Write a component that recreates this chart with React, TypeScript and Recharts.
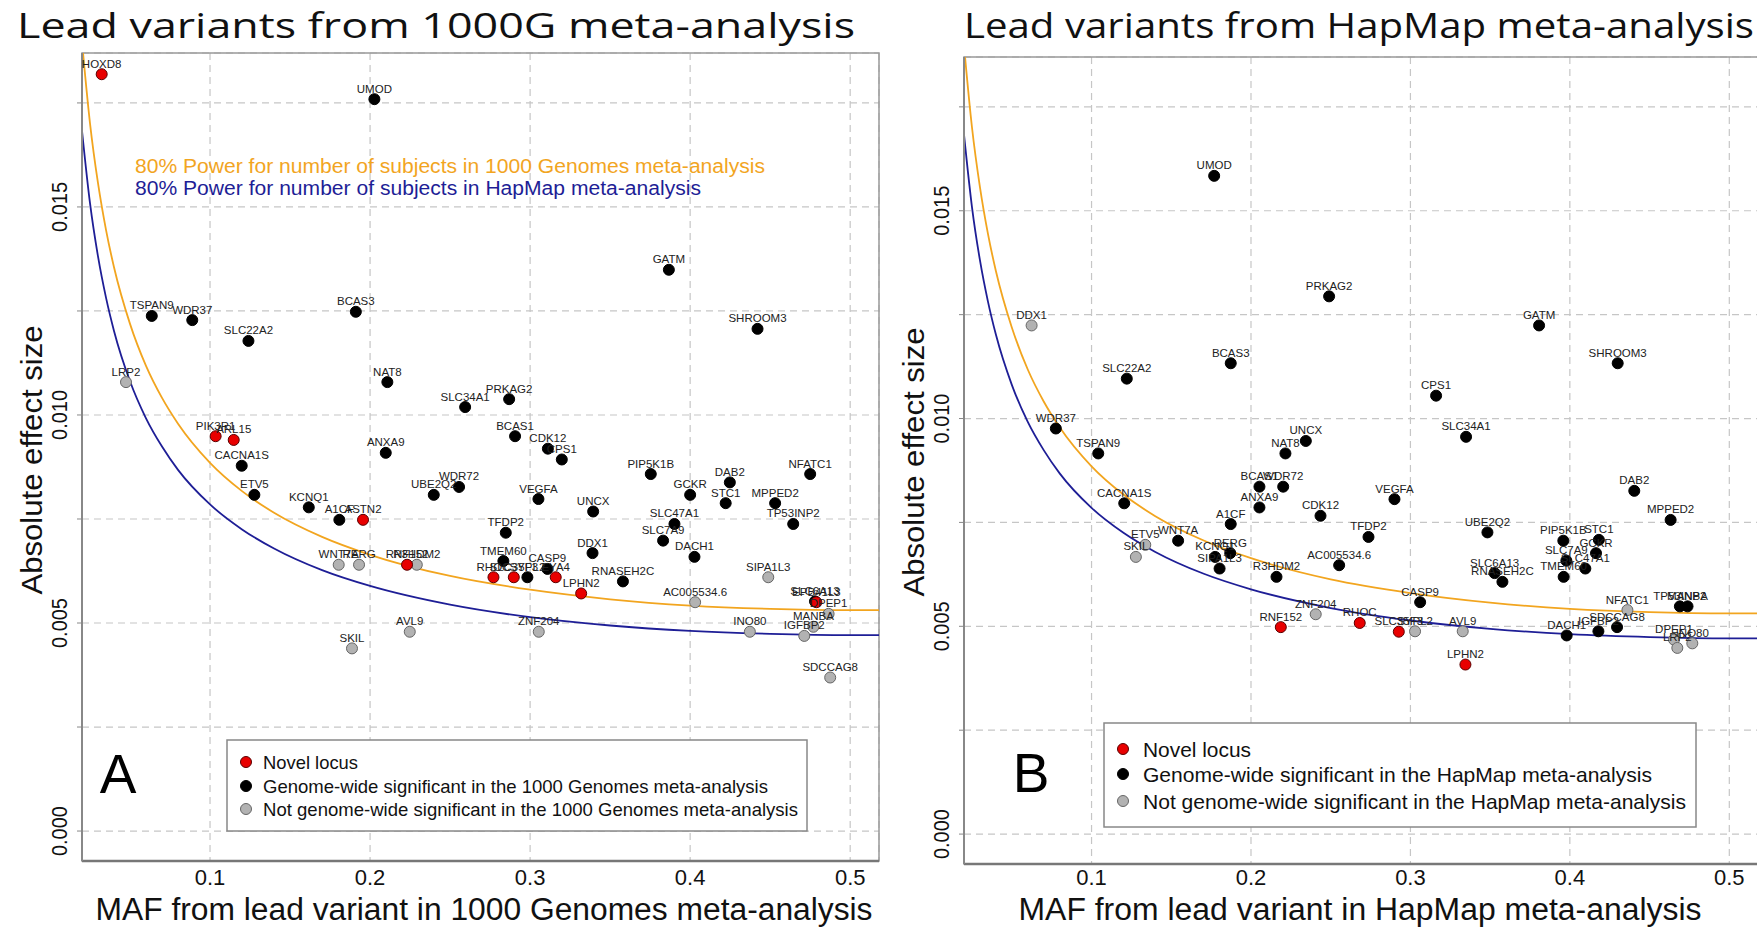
import React from 'react';
import { ComposedChart, Scatter, Line, XAxis, YAxis, CartesianGrid, ReferenceArea } from 'recharts';

const SANS = '"Liberation Sans", Arial, sans-serif';
const ORANGE = '#F2A51F';
const NAVY = '#1E1E96';

const xTicks = [0.1, 0.2, 0.3, 0.4, 0.5];
const yTicks = [0, 0.0025, 0.005, 0.0075, 0.01, 0.0125, 0.015, 0.0175];
const yLabelled = [0, 0.005, 0.01, 0.015];
const xDomain = [0.02, 0.518];
const yDomain = [-0.00072, 0.0187];

// 80% power curves (same in both panels)
const powerMaf = [0.02, 0.025, 0.03, 0.035, 0.04, 0.05, 0.06, 0.07, 0.08, 0.1, 0.12, 0.14, 0.17, 0.2, 0.25, 0.3, 0.35, 0.4, 0.45, 0.5, 0.518];
const power1000G = [0.01897, 0.01701, 0.01557, 0.01445, 0.01355, 0.01219, 0.01118, 0.01041, 0.00979, 0.00885, 0.00817, 0.00765, 0.00707, 0.00664, 0.00613, 0.0058, 0.00557, 0.00542, 0.00534, 0.00531, 0.00531];
const powerHapMap = [0.01683, 0.01509, 0.01381, 0.01282, 0.01202, 0.01081, 0.00992, 0.00924, 0.00868, 0.00785, 0.00725, 0.00679, 0.00627, 0.00589, 0.00544, 0.00514, 0.00494, 0.00481, 0.00474, 0.00471, 0.00471];

// panel A: 1000 Genomes
const kgGenes = ['HOXD8', 'UMOD', 'TSPAN9', 'WDR37', 'BCAS3', 'SLC22A2', 'LRP2', 'NAT8', 'SLC34A1', 'PIK3R1', 'ARL15', 'ANXA9', 'GATM', 'SHROOM3', 'PRKAG2', 'BCAS1', 'CDK12', 'CPS1', 'CACNA1S', 'ETV5', 'KCNQ1', 'A1CF', 'ASTN2', 'UBE2Q2', 'WDR72', 'WNT7A', 'RERG', 'RNF152', 'R3HDM2', 'AVL9', 'SKIL', 'RHOC', 'TMEM60', 'SLC35F3', 'SYPL2', 'CASP9', 'EYA4', 'LPHN2', 'TFDP2', 'DDX1', 'RNASEH2C', 'PIP5K1B', 'VEGFA', 'UNCX', 'GCKR', 'DAB2', 'STC1', 'NFATC1', 'MPPED2', 'TP53INP2', 'SLC47A1', 'SLC7A9', 'DACH1', 'SIPA1L3', 'AC005534.6', 'SLC6A13', 'EPB41L3', 'DPEP1', 'MANBA', 'IGFBP2', 'INO80', 'ZNF204', 'SDCCAG8'];
const kgMaf = [0.0323, 0.2027, 0.0636, 0.0889, 0.1911, 0.124, 0.0475, 0.2108, 0.2594, 0.1035, 0.1148, 0.2098, 0.3867, 0.4421, 0.2869, 0.2906, 0.3111, 0.3198, 0.1198, 0.1277, 0.1617, 0.1808, 0.1956, 0.2398, 0.2556, 0.1804, 0.1931, 0.2231, 0.2292, 0.2248, 0.1887, 0.2771, 0.2833, 0.2898, 0.2983, 0.3108, 0.316, 0.3319, 0.2848, 0.339, 0.358, 0.3754, 0.3052, 0.3394, 0.4, 0.4248, 0.4222, 0.475, 0.4531, 0.4644, 0.3902, 0.3831, 0.4027, 0.4488, 0.4031, 0.478, 0.4789, 0.4865, 0.477, 0.4713, 0.4373, 0.3054, 0.4875];
const kgEffect = [0.01819, 0.01759, 0.01238, 0.01228, 0.01248, 0.01178, 0.01079, 0.01079, 0.01019, 0.00949, 0.0094, 0.00909, 0.01349, 0.01207, 0.01038, 0.00949, 0.00919, 0.00893, 0.00878, 0.00808, 0.00778, 0.00748, 0.00748, 0.00808, 0.00827, 0.0064, 0.0064, 0.0064, 0.0064, 0.00479, 0.00439, 0.0061, 0.00649, 0.0061, 0.0061, 0.0063, 0.0061, 0.00571, 0.00717, 0.00668, 0.006, 0.00858, 0.00798, 0.00768, 0.00808, 0.00838, 0.00788, 0.00858, 0.00788, 0.00738, 0.00738, 0.00698, 0.00659, 0.0061, 0.0055, 0.00552, 0.0055, 0.00522, 0.00491, 0.00469, 0.00479, 0.00479, 0.00369];
const kgStatus = ['novel', 'gws', 'gws', 'gws', 'gws', 'gws', 'ns', 'gws', 'gws', 'novel', 'novel', 'gws', 'gws', 'gws', 'gws', 'gws', 'gws', 'gws', 'gws', 'gws', 'gws', 'gws', 'novel', 'gws', 'gws', 'ns', 'ns', 'novel', 'ns', 'ns', 'ns', 'novel', 'gws', 'novel', 'gws', 'gws', 'novel', 'novel', 'gws', 'gws', 'gws', 'gws', 'gws', 'gws', 'gws', 'gws', 'gws', 'gws', 'gws', 'gws', 'gws', 'gws', 'gws', 'ns', 'ns', 'gws', 'novel', 'ns', 'ns', 'ns', 'ns', 'ns', 'ns'];

// panel B: HapMap
const hmGenes = ['UMOD', 'PRKAG2', 'DDX1', 'BCAS3', 'SLC22A2', 'WDR37', 'TSPAN9', 'UNCX', 'NAT8', 'GATM', 'SHROOM3', 'CPS1', 'SLC34A1', 'CACNA1S', 'BCAS1', 'WDR72', 'ANXA9', 'CDK12', 'A1CF', 'WNT7A', 'ETV5', 'SKIL', 'KCNQ1', 'RERG', 'SIPA1L3', 'R3HDM2', 'AC005534.6', 'ZNF204', 'RNF152', 'RHOC', 'SLC35F3', 'SYPL2', 'AVL9', 'LPHN2', 'CASP9', 'VEGFA', 'TFDP2', 'UBE2Q2', 'SLC6A13', 'RNASEH2C', 'PIP5K1B', 'STC1', 'GCKR', 'SLC7A9', 'SLC47A1', 'TMEM60', 'DAB2', 'MPPED2', 'NFATC1', 'TP53INP2', 'MANBA', 'DACH1', 'IGFBP2', 'SDCCAG8', 'DPEP1', 'LRP2', 'INO80'];
const hmMaf = [0.1769, 0.249, 0.0624, 0.1873, 0.1221, 0.0776, 0.1042, 0.2344, 0.2216, 0.3807, 0.43, 0.3161, 0.3349, 0.1205, 0.2053, 0.2202, 0.2053, 0.2436, 0.1873, 0.1543, 0.1337, 0.1278, 0.1775, 0.187, 0.1803, 0.216, 0.2553, 0.2406, 0.2187, 0.2682, 0.2927, 0.3029, 0.3328, 0.3345, 0.3061, 0.29, 0.2737, 0.3483, 0.3528, 0.3577, 0.3959, 0.4182, 0.4164, 0.3978, 0.4097, 0.3961, 0.4404, 0.4632, 0.4361, 0.469, 0.4738, 0.398, 0.4179, 0.4296, 0.4653, 0.4674, 0.4768];
const hmEffect = [0.01584, 0.01294, 0.01224, 0.01133, 0.01096, 0.00976, 0.00916, 0.00946, 0.00916, 0.01224, 0.01133, 0.01055, 0.00956, 0.00796, 0.00836, 0.00836, 0.00786, 0.00766, 0.00746, 0.00706, 0.00696, 0.00667, 0.00667, 0.00676, 0.00639, 0.00619, 0.00647, 0.00529, 0.00498, 0.00508, 0.00487, 0.00488, 0.00488, 0.00408, 0.00558, 0.00806, 0.00715, 0.00726, 0.00628, 0.00607, 0.00706, 0.00708, 0.00676, 0.00658, 0.00639, 0.00619, 0.00826, 0.00756, 0.00539, 0.00548, 0.00548, 0.00478, 0.00488, 0.00498, 0.00468, 0.00448, 0.00459];
const hmStatus = ['gws', 'gws', 'ns', 'gws', 'gws', 'gws', 'gws', 'gws', 'gws', 'gws', 'gws', 'gws', 'gws', 'gws', 'gws', 'gws', 'gws', 'gws', 'gws', 'gws', 'ns', 'ns', 'gws', 'gws', 'gws', 'gws', 'gws', 'ns', 'novel', 'novel', 'novel', 'ns', 'ns', 'novel', 'gws', 'gws', 'gws', 'gws', 'gws', 'gws', 'gws', 'gws', 'gws', 'gws', 'gws', 'gws', 'gws', 'gws', 'ns', 'gws', 'gws', 'gws', 'gws', 'gws', 'ns', 'ns', 'ns'];

const curve = (effects: number[]) => powerMaf.map((m, i) => ({ maf: m, eff: effects[i] }));
const points = (names: string[], maf: number[], eff: number[], status: string[]) =>
  names.map((n, i) => ({ name: n, maf: maf[i], eff: eff[i], status: status[i] }));

const dot = (fill: string, stroke: string) => (props: any) => (
  <circle cx={props.cx} cy={props.cy} r={5.5} fill={fill} stroke={stroke} strokeWidth={1} />
);

const geneLabel = (props: any) => {
  const name = props.payload?.name ?? props.name;
  return (
    <text x={props.cx} y={props.cy - 6.5} textAnchor="middle" fontSize={11.5} fill="#222" fontFamily={SANS}>
      {name}
    </text>
  );
};

const makeYTick = (labelX: number) => (props: any) => {
  const { y, payload } = props;
  const v = payload.value;
  if (!yLabelled.some((t) => Math.abs(t - v) < 1e-9)) return <g />;
  return (
    <text
      x={labelX}
      y={y}
      transform={`rotate(-90 ${labelX} ${y})`}
      textAnchor="middle"
      dominantBaseline="central"
      fontSize={22}
      textLength={50}
      lengthAdjust="spacingAndGlyphs"
      fontFamily={SANS}
      fill="#111"
    >
      {v.toFixed(3)}
    </text>
  );
};

const makeXTick = (baseline: number) => (props: any) => (
  <text x={props.x} y={baseline} textAnchor="middle" fontSize={22} fontFamily={SANS} fill="#111">
    {props.payload.value}
  </text>
);

interface PanelProps {
  data: { name: string; maf: number; eff: number; status: string }[];
  left: number;
  width: number;
  margin: { top: number; right: number; bottom: number; left: number };
  yAxisWidth: number;
  xAxisHeight: number;
  yLabelX: number;
}

function Panel({ data, left, width, margin, yAxisWidth, xAxisHeight, yLabelX }: PanelProps) {
  const novel = data.filter((d) => d.status === 'novel');
  const gws = data.filter((d) => d.status === 'gws');
  const ns = data.filter((d) => d.status === 'ns');
  return (
    <div style={{ position: 'absolute', left, top: 0 }}>
      <ComposedChart width={width} height={930} margin={margin}>
        <CartesianGrid stroke="#c6c6c6" strokeDasharray="7 5" strokeWidth={1.2} />
        <XAxis
          type="number"
          dataKey="maf"
          domain={xDomain}
          ticks={xTicks}
          allowDataOverflow
          height={xAxisHeight}
          axisLine={{ stroke: '#777', strokeWidth: 2.5 }}
          tickLine={false}
          tick={makeXTick(885)}
        />
        <YAxis
          type="number"
          dataKey="eff"
          domain={yDomain}
          ticks={yTicks}
          allowDataOverflow
          width={yAxisWidth}
          axisLine={{ stroke: '#888', strokeWidth: 2 }}
          tickLine={{ stroke: '#888' }}
          tickSize={5}
          tick={makeYTick(yLabelX)}
        />
        <ReferenceArea
          x1={xDomain[0]}
          x2={xDomain[1]}
          y1={yDomain[0]}
          y2={yDomain[1]}
          fill="none"
          fillOpacity={0}
          stroke="#999"
          strokeWidth={1.5}
          ifOverflow="visible"
        />
        <Line data={curve(powerHapMap)} dataKey="eff" type="monotone" stroke={NAVY} strokeWidth={1.8} dot={false} isAnimationActive={false} />
        <Line data={curve(power1000G)} dataKey="eff" type="monotone" stroke={ORANGE} strokeWidth={1.8} dot={false} isAnimationActive={false} />
        <Scatter data={ns} shape={dot('#b2b2b2', '#666')} isAnimationActive={false} />
        <Scatter data={gws} shape={dot('#000', '#000')} isAnimationActive={false} />
        <Scatter data={novel} shape={dot('#e80000', '#5a0000')} isAnimationActive={false} />
        <Scatter data={data} shape={geneLabel} isAnimationActive={false} />
      </ComposedChart>
    </div>
  );
}

function LegendBox({ x, y, w, h, cx, tx, rows, size, lens, labels }: any) {
  const colors = [
    ['#e80000', '#5a0000'],
    ['#000', '#000'],
    ['#b2b2b2', '#666'],
  ];
  return (
    <g>
      <rect x={x} y={y} width={w} height={h} fill="#fff" stroke="#888" strokeWidth={1.5} />
      {labels.map((t: string, i: number) => (
        <g key={t}>
          <circle cx={cx} cy={rows[i]} r={5.5} fill={colors[i][0]} stroke={colors[i][1]} />
          <text x={tx} y={rows[i]} dominantBaseline="central" fontSize={size} textLength={lens[i]} lengthAdjust="spacingAndGlyphs" fontFamily={SANS} fill="#111">
            {t}
          </text>
        </g>
      ))}
    </g>
  );
}

export default function App() {
  const dataA = points(kgGenes, kgMaf, kgEffect, kgStatus);
  const dataB = points(hmGenes, hmMaf, hmEffect, hmStatus);
  return (
    <div style={{ position: 'absolute', left: 0, top: 0, width: 1757, height: 930, overflow: 'hidden', background: '#fff' }}>
      <Panel
        data={dataA}
        left={0}
        width={900}
        margin={{ top: 53, right: 21, bottom: 0, left: 0 }}
        yAxisWidth={82}
        xAxisHeight={69}
        yLabelX={60}
      />
      <Panel
        data={dataB}
        left={880}
        width={900}
        margin={{ top: 57, right: 22, bottom: 0, left: 0 }}
        yAxisWidth={84}
        xAxisHeight={66}
        yLabelX={62}
      />
      <svg width={1757} height={930} style={{ position: 'absolute', left: 0, top: 0, pointerEvents: 'none' }}>
        <text x={17} y={38} fontSize={35} textLength={838} lengthAdjust="spacingAndGlyphs" fontFamily='"Open Sans", sans-serif' fill="#111">
          Lead variants from 1000G meta-analysis
        </text>
        <text x={964} y={38} fontSize={35} textLength={790} lengthAdjust="spacingAndGlyphs" fontFamily='"Open Sans", sans-serif' fill="#111">
          Lead variants from HapMap meta-analysis
        </text>
        <text x={31} y={460} transform="rotate(-90 31 460)" textAnchor="middle" dominantBaseline="central" fontSize={30} textLength={269} lengthAdjust="spacingAndGlyphs" fontFamily={SANS} fill="#111">
          Absolute effect size
        </text>
        <text x={913} y={462} transform="rotate(-90 913 462)" textAnchor="middle" dominantBaseline="central" fontSize={30} textLength={269} lengthAdjust="spacingAndGlyphs" fontFamily={SANS} fill="#111">
          Absolute effect size
        </text>
        <text x={484} y={920} textAnchor="middle" fontSize={31} textLength={777} lengthAdjust="spacingAndGlyphs" fontFamily={SANS} fill="#111">
          MAF from lead variant in 1000 Genomes meta-analysis
        </text>
        <text x={1360} y={920} textAnchor="middle" fontSize={31} textLength={683} lengthAdjust="spacingAndGlyphs" fontFamily={SANS} fill="#111">
          MAF from lead variant in HapMap meta-analysis
        </text>
        <text x={135} y={173} fontSize={20} textLength={630} lengthAdjust="spacingAndGlyphs" fontFamily={SANS} fill={ORANGE}>
          80% Power for number of subjects in 1000 Genomes meta-analysis
        </text>
        <text x={135} y={195} fontSize={20} textLength={566} lengthAdjust="spacingAndGlyphs" fontFamily={SANS} fill={NAVY}>
          80% Power for number of subjects in HapMap meta-analysis
        </text>
        <LegendBox
          x={227}
          y={740}
          w={580}
          h={91}
          cx={246}
          tx={263}
          rows={[762, 786, 809]}
          size={19}
          lens={[95, 505, 535]}
          labels={['Novel locus', 'Genome-wide significant in the 1000 Genomes meta-analysis', 'Not genome-wide significant in the 1000 Genomes meta-analysis']}
        />
        <LegendBox
          x={1104}
          y={723}
          w={592}
          h={104}
          cx={1123}
          tx={1143}
          rows={[749, 774, 801]}
          size={21}
          lens={[108, 509, 543]}
          labels={['Novel locus', 'Genome-wide significant in the HapMap meta-analysis', 'Not genome-wide significant in the HapMap meta-analysis']}
        />
        <text x={118} y={793} textAnchor="middle" fontSize={55} fontFamily={SANS} fill="#000">A</text>
        <text x={1031} y={792} textAnchor="middle" fontSize={55} fontFamily={SANS} fill="#000">B</text>
      </svg>
    </div>
  );
}
